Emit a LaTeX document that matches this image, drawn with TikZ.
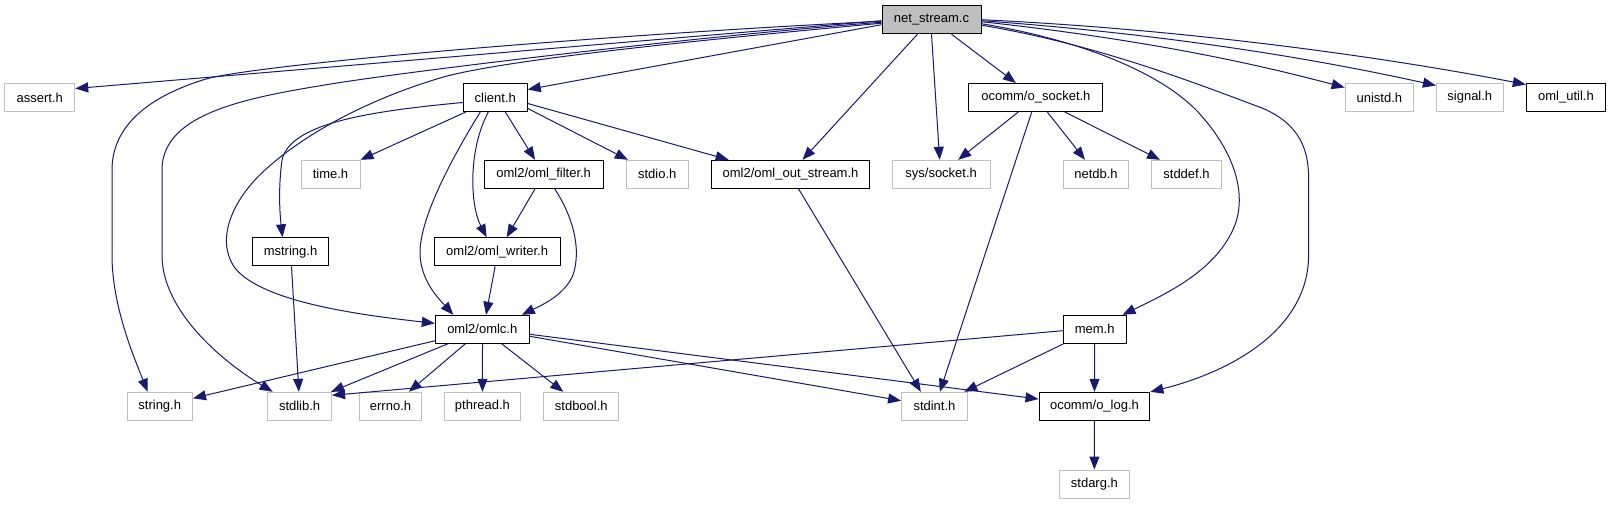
\documentclass[tikz,border=0pt]{standalone}
\usepackage{fontspec}
\setmainfont{Liberation Sans}
\usetikzlibrary{arrows.meta,calc}
\definecolor{edgec}{HTML}{191970}
\definecolor{grayc}{HTML}{BFBFBF}
\begin{document}
\begin{tikzpicture}[x=1pt,y=-1pt,
  box/.style={line width=1pt, inner sep=0pt, minimum height=28pt, font=\fontsize{13}{15}\selectfont},
  sysbox/.style={box, draw=grayc},
  locbox/.style={box, draw=black},
  mainbox/.style={box, draw=black, fill=grayc},
  edge/.style={draw=edgec, line width=1pt, -{Triangle[length=13pt,width=10pt]}}]
\fill[white] (0,0) rectangle (1611,504);
\useasboundingbox (0,0) rectangle (1611,504);
% row 0
\node[mainbox, minimum width=99pt] (ns) at (931.5,19.7) {net\_stream.c};
% row 1
\node[sysbox, minimum width=70pt] (nassert) at (39.75,97.5) {assert.h};
\node[locbox, minimum width=64pt] (nclient) at (495.3,97.5) {client.h};
\node[locbox, minimum width=134pt] (nosock) at (1035.9,97.5) {ocomm/o\_socket.h};
\node[sysbox, minimum width=68.6pt] (nunistd) at (1379.4,97.5) {unistd.h};
\node[sysbox, minimum width=66.8pt] (nsignal) at (1469.8,97.5) {signal.h};
\node[locbox, minimum width=79.2pt] (nomlutil) at (1565.9,97.5) {oml\_util.h};
% row 2
\node[sysbox, minimum width=59pt] (ntime) at (330.5,174.3) {time.h};
\node[locbox, minimum width=118.7pt] (nfilter) at (543.65,174.3) {oml2/oml\_filter.h};
\node[sysbox, minimum width=61.7pt] (nstdio) at (657.25,174.3) {stdio.h};
\node[locbox, minimum width=158.8pt] (nout) at (790.5,174.3) {oml2/oml\_out\_stream.h};
\node[sysbox, minimum width=97.7pt] (nsyssock) at (941.15,174.3) {sys/socket.h};
\node[sysbox, minimum width=65.4pt] (nnetdb) at (1096,174.3) {netdb.h};
\node[sysbox, minimum width=69.6pt] (nstddef) at (1186.5,174.3) {stddef.h};
% row 3
\node[locbox, minimum width=76.4pt] (nmstring) at (290.5,251.8) {mstring.h};
\node[locbox, minimum width=125.7pt] (nwriter) at (497.15,251.8) {oml2/oml\_writer.h};
% row 4
\node[locbox, minimum width=94pt] (nomlc) at (482.3,329.3) {oml2/omlc.h};
\node[locbox, minimum width=62.7pt] (nmem) at (1094.65,329.3) {mem.h};
% row 5
\node[sysbox, minimum width=65.5pt] (nstring) at (159.75,406.3) {string.h};
\node[sysbox, minimum width=64pt] (nstdlib) at (299.6,406.3) {stdlib.h};
\node[sysbox, minimum width=62.6pt] (nerrno) at (390.5,406.3) {errno.h};
\node[sysbox, minimum width=76.5pt] (npthread) at (482.45,406.3) {pthread.h};
\node[sysbox, minimum width=75pt] (nstdbool) at (581.3,406.3) {stdbool.h};
\node[sysbox, minimum width=65.7pt] (nstdint) at (934.45,406.3) {stdint.h};
\node[locbox, minimum width=110.9pt] (nolog) at (1094.45,406.3) {ocomm/o\_log.h};
% row 6
\node[sysbox, minimum width=69.6pt] (nstdarg) at (1094.4,484) {stdarg.h};

% edges from net_stream.c
\path[edge] ($(ns.west)+(0,1)$) -- ($(nassert.east)+(0,-9)$);
\path[edge] ($(ns.west)+(0,1.5)$) .. controls (600,35) and (260,64) .. (206,79)
  .. controls (150,96) and (112,125) .. (112,170) -- (112,255)
  .. controls (112,305) and (133,355) .. ($(nstring.north)+(-12,0)$);
\path[edge] ($(ns.west)+(0,2.5)$) .. controls (700,36) and (420,70) .. (337,83)
  .. controls (250,97) and (162,112) .. (162,170) -- (162,255)
  .. controls (162,310) and (220,360) .. ($(nstdlib.north)+(-27,0)$);
\path[edge] ($(ns.west)+(0,3.5)$) .. controls (700,40) and (500,60) .. (440,78)
  .. controls (360,102) and (300,138) .. (265,170)
  .. controls (232,200) and (215,240) .. (235,268)
  .. controls (262,302) and (360,315) .. ($(nomlc.west)+(0,-6)$);
\path[edge] ($(ns.west)+(0,5)$) -- ($(nclient.east)+(0,-8)$);
\path[edge] ($(ns.south)+(-14,0)$) -- ($(nout.north)+(12,0)$);
\path[edge] (ns.south) -- ($(nsyssock.north)+(-1.5,0)$);
\path[edge] ($(ns.south)+(20,0)$) -- ($(nosock.north)+(-20,0)$);
\path[edge] ($(ns.east)+(0,4)$) .. controls (1080,40) and (1160,72) .. (1198,112)
  .. controls (1233,150) and (1246,190) .. (1236,222)
  .. controls (1220,268) and (1170,292) .. ($(nmem.north east)+(-4,0)$);
\path[edge] ($(ns.east)+(0,5.5)$) .. controls (1100,45) and (1200,85) .. (1262,108)
  .. controls (1300,124) and (1308.6,150) .. (1308.6,178) -- (1308.6,255)
  .. controls (1308.6,330) and (1230,372) .. (nolog.north east);
\path[edge] ($(ns.east)+(0,2)$) .. controls (1150,40) and (1260,65) .. ($(nunistd.west)+(0,-10)$);
\path[edge] ($(ns.east)+(0,1)$) .. controls (1180,35) and (1330,62) .. ($(nsignal.west)+(0,-12)$);
\path[edge] ($(ns.east)+(0,0)$) .. controls (1200,30) and (1400,60) .. ($(nomlutil.west)+(0,-13)$);

% edges from client.h
\path[edge] ($(nclient.south west)+(3,0)$) -- (ntime.north east);
\path[edge] ($(nclient.west)+(0,5)$) .. controls (360,112) and (290,125) .. (282,160)
  .. controls (278,190) and (280,215) .. ($(nmstring.north)+(-8,0)$);
\path[edge] ($(nclient.south)+(-15,0)$) .. controls (460,145) and (422,210) .. (420,250)
  .. controls (419,280) and (440,300) .. ($(nomlc.north)+(-29,0)$);
\path[edge] ($(nclient.south)+(-7,0)$) .. controls (468,150) and (470,205) .. ($(nwriter.north)+(-10.5,0)$);
\path[edge] ($(nclient.south)+(10,0)$) -- ($(nfilter.north)+(-8.6,0)$);
\path[edge] ($(nclient.east)+(0,11)$) -- ($(nstdio.north west)+(2,0)$);
\path[edge] ($(nclient.east)+(0,6)$) -- ($(nout.north west)+(18,0)$);

% oml_filter, oml_writer, mstring
\path[edge] ($(nfilter.south)+(-8.6,0)$) -- ($(nwriter.north)+(9.5,0)$);
\path[edge] ($(nfilter.south)+(11,0)$) .. controls (572,215) and (582,248) .. (573,275)
  .. controls (565,295) and (540,306) .. ($(nomlc.north east)+(-8,0)$);
\path[edge] ($(nwriter.south)+(-2,0)$) -- ($(nomlc.north)+(3.7,0)$);
\path[edge] ($(nmstring.south)+(1,0)$) -- ($(nstdlib.north)+(-0.7,0)$);

% omlc
\path[edge] ($(nomlc.south west)+(0,-3)$) -- ($(nstring.east)+(0,-8)$);
\path[edge] ($(nomlc.south west)+(13,0)$) -- ($(nstdlib.north east)+(-1,0)$);
\path[edge] ($(nomlc.south)+(-17,0)$) -- ($(nerrno.north east)+(-13.5,0)$);
\path[edge] ($(nomlc.south)+(0.2,0)$) -- (npthread.north);
\path[edge] ($(nomlc.south)+(19.4,0)$) -- ($(nstdbool.north)+(-18,0)$);
\path[edge] ($(nomlc.east)+(0,7)$) -- ($(nstdint.west)+(0,-5.6)$);
\path[edge] ($(nomlc.east)+(0,5)$) -- ($(nolog.west)+(0,-7.3)$);

% o_socket
\path[edge] ($(nosock.south)+(-17.6,0)$) -- ($(nsyssock.north)+(17,0)$);
\path[edge] ($(nosock.south)+(-4.2,0)$) -- ($(nstdint.north)+(5.4,0)$);
\path[edge] ($(nosock.south)+(11.4,0)$) -- ($(nnetdb.north)+(-11,0)$);
\path[edge] ($(nosock.south east)+(-38.7,0)$) -- ($(nstddef.north)+(-26.5,0)$);

% out_stream
\path[edge] ($(nout.south)+(8,0)$) -- ($(nstdint.north)+(-13.6,0)$);

% mem
\path[edge] ($(nmem.west)+(0,1.4)$) -- ($(nstdlib.east)+(0,-11)$);
\path[edge] ($(nmem.south west)+(0.7,0)$) -- ($(nstdint.north east)+(-3.4,0)$);
\path[edge] (nmem.south) -- (nolog.north);

% o_log
\path[edge] (nolog.south) -- (nstdarg.north);
\end{tikzpicture}
\end{document}
